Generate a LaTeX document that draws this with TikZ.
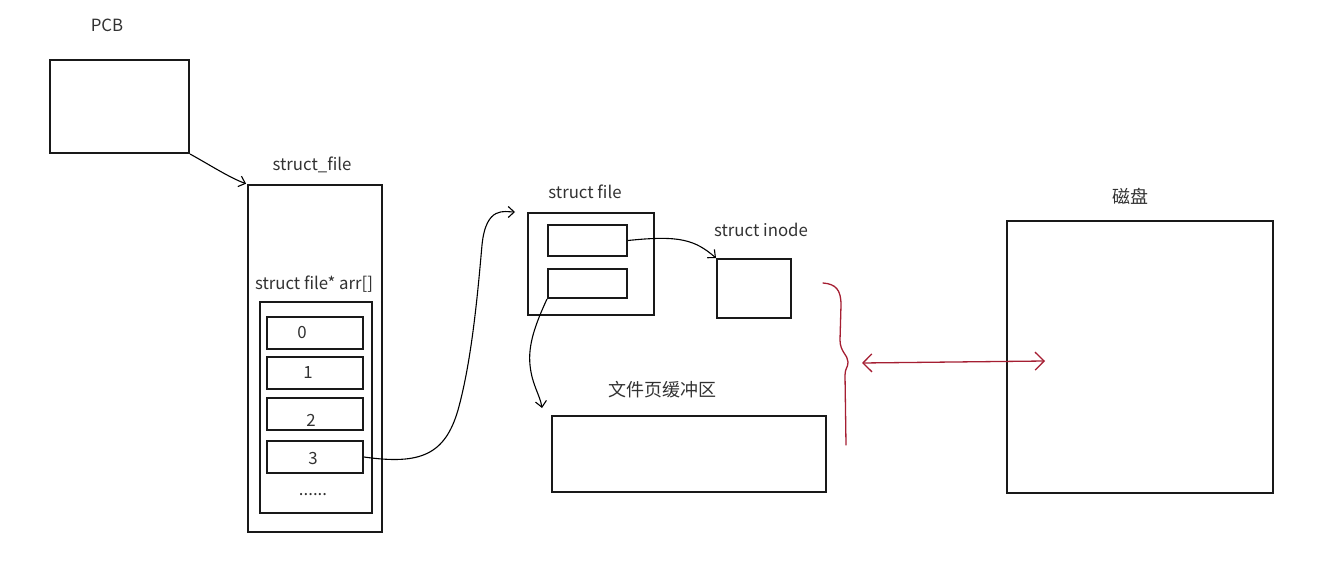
\documentclass[tikz,border=0pt]{standalone}
\usepackage{fontspec}
\setmainfont{Noto Sans CJK SC}
\usetikzlibrary{arrows.meta,calc}
\definecolor{inkred}{RGB}{165,30,50}
\definecolor{txt}{RGB}{50,50,50}
\begin{document}
\begin{tikzpicture}[x=1pt,y=-1pt,
  box/.style={draw=black!90,line width=2pt,inner sep=0pt,fill=none},
  lbl/.style={text=txt,font=\fontsize{16.8}{19}\selectfont,inner sep=0pt},
  cjk/.style={text=txt,font=\fontsize{18}{20}\selectfont,inner sep=0pt},
  conn/.style={draw=black,line width=1.1pt,-{Straight Barb[length=6pt,width=11pt,line width=1.1pt]}},
  redconn/.style={draw=inkred,line width=1.3pt}]
\useasboundingbox (0,0) rectangle (1335,588);
% boxes
\node[box,minimum width=139pt,minimum height=93pt] (pcb) at (119.5,106.5) {};
\node[lbl] (pcbl) at (107,25) {PCB};
\node[box,minimum width=134pt,minimum height=347pt] (sf) at (315,358.5) {};
\node[lbl] (sfl) at (312,165) {struct\_file};
\node[lbl] (arrl) at (314,284) {struct file* arr[]};
\node[box,minimum width=112pt,minimum height=211pt] (arr) at (316,407.5) {};
\node[box,minimum width=96pt,minimum height=32pt] (c0) at (315,333) {};
\node[box,minimum width=96pt,minimum height=32pt] (c1) at (315,373) {};
\node[box,minimum width=96pt,minimum height=32pt] (c2) at (315,414) {};
\node[box,minimum width=96pt,minimum height=32pt] (c3) at (315,457) {};
\node[lbl] (l0) at (302,333) {0};
\node[lbl] (l1) at (308,373) {1};
\node[lbl] (l2) at (311,420) {2};
\node[lbl] (l3) at (313,459) {3};
\node[lbl] (ld) at (313,495) {......};
\node[box,minimum width=126pt,minimum height=102pt] (file) at (591,264) {};
\node[lbl] (filel) at (585,192) {struct file};
\node[box,minimum width=79pt,minimum height=31pt] (f1) at (587.5,240.5) {};
\node[box,minimum width=79pt,minimum height=29pt] (f2) at (587.5,283.5) {};
\node[box,minimum width=74pt,minimum height=59pt] (inode) at (754,288.5) {};
\node[lbl] (inodel) at (761,230) {struct inode};
\node[box,minimum width=274pt,minimum height=76pt] (buf) at (689,454) {};
\node[cjk] (bufl) at (662,390) {文件页缓冲区};
\node[box,minimum width=266pt,minimum height=272pt] (disk) at (1140,357) {};
\node[cjk] (diskl) at (1130,196) {磁盘};
% connectors
\draw[conn,shorten >=1pt] (pcb.south east) .. controls (210,165) and (230,178) .. (sf.north west);
\draw[conn,shorten >=12pt] (c3.east) .. controls (420,465) and (445,455) .. (458,410)
   .. controls (472,360) and (478,290) .. (482,245)
   .. controls (486,205) and (505,212) .. (file.north west);
\draw[conn] (f1.east) .. controls (680,235) and (695,240) .. (inode.north west);
\coordinate (bufin) at (542,408);
\draw[conn] (f2.south west) .. controls (535,325) and (528,345) .. (530,365)
   .. controls (532,385) and (540,395) .. (bufin);
% red brace
\draw[redconn,line cap=round] (823,283) .. controls (836,284) and (841,290) .. (841,305)
   -- (840,340) .. controls (840,352) and (848,355) .. (848,362)
   .. controls (848,368) and (845,368) .. (845,375) -- (846,445);
\coordinate (ra) at (862,363);
\coordinate (rb) at (1045,361);
\draw[redconn,{Straight Barb[length=9pt,width=18pt,line width=1.3pt]}-{Straight Barb[length=9pt,width=18pt,line width=1.3pt]}] (ra) -- (rb);
\end{tikzpicture}
\end{document}
